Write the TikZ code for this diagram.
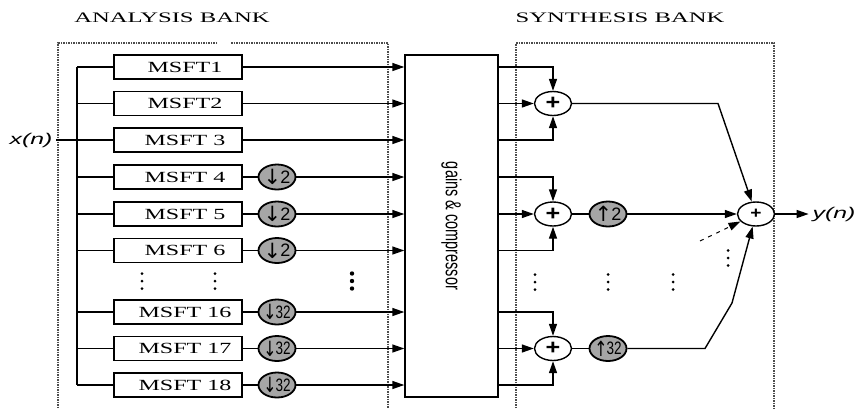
\documentclass[tikz,border=0pt]{standalone}
\usepackage{fontspec}
\setmainfont{Liberation Serif}
\setsansfont{Liberation Sans}
\newfontfamily\arrowfont{DejaVu Sans}
\usepackage{graphicx}
\usetikzlibrary{arrows.meta,shapes.geometric}
\newcommand{\wide}[2][1.6]{\scalebox{#1}[1]{#2}}
\newcommand{\decim}[2][1]{\makebox[0pt]{\scalebox{#1}[1]{\raisebox{-1.5pt}{\arrowfont\fontsize{21}{21}\selectfont ↓}\kern-1pt#2}}}
\newcommand{\interp}[2][1]{\makebox[0pt]{\scalebox{#1}[1]{\raisebox{-1.5pt}{\arrowfont\fontsize{21}{21}\selectfont ↑}\kern-1pt#2}}}
\begin{document}
\begin{tikzpicture}[x=1pt, y=-1pt, >={Triangle[length=12pt,width=8pt]}, line width=1.4pt,
  msft/.style={draw, rectangle, minimum width=128pt, minimum height=24pt, inner sep=0pt, font=\fontsize{15.5}{15.5}\selectfont},
  rate/.style={draw, ellipse, fill=gray!70, line width=1.8pt, minimum width=37pt, minimum height=25pt, inner sep=0pt, font=\sffamily\fontsize{18}{18}\selectfont},
  adder/.style={draw, ellipse, fill=white, minimum width=37pt, minimum height=24pt, inner sep=0pt, font=\sffamily\bfseries\fontsize{21}{21}\selectfont},
  bank/.style={densely dotted, line width=1.5pt, black!70},
  title/.style={font=\fontsize{14.5}{14.5}\selectfont},
  dotpt/.style={radius=1.5pt}]
\useasboundingbox (0,0) rectangle (859,408);
\draw[bank] (217,43) -- (58,43) -- (58,408);
\draw[bank] (231,43) -- (388,43) -- (388,408);
\draw[bank] (516,408) -- (516,43) -- (774,43) -- (774,408);
\node[title] (ta) at (172,18) {\wide[1.7]{ANALYSIS BANK}};
\node[title] (ts) at (620,18) {\wide[1.7]{SYNTHESIS BANK}};
\node[font=\sffamily\itshape\fontsize{15.5}{15.5}\selectfont] (xn) at (31,140) {\wide{x(n)}};
\node[font=\sffamily\itshape\fontsize{15.5}{15.5}\selectfont] (yn) at (834,214) {\wide{y(n)}};
\coordinate (bus) at (77,67);
\node[msft] (m1) at (178,67) {\hspace*{14pt}\wide[1.55]{MSFT1}};
\node[msft] (m2) at (178,103.5) {\hspace*{14pt}\wide[1.55]{MSFT2}};
\node[msft] (m3) at (178,140) {\hspace*{14pt}\wide[1.55]{MSFT 3}};
\node[msft] (m4) at (178,177) {\hspace*{14pt}\wide[1.55]{MSFT 4}};
\node[msft] (m5) at (178,214) {\hspace*{14pt}\wide[1.55]{MSFT 5}};
\node[msft] (m6) at (178,250.5) {\hspace*{14pt}\wide[1.55]{MSFT 6}};
\node[msft] (m16) at (178,312) {\hspace*{14pt}\wide[1.55]{MSFT 16}};
\node[msft] (m17) at (178,348.5) {\hspace*{14pt}\wide[1.55]{MSFT 17}};
\node[msft] (m18) at (178,385) {\hspace*{14pt}\wide[1.55]{MSFT 18}};
\node[rate] (d4) at (277,177) {\decim{2}};
\node[rate] (d5) at (277,214) {\decim{2}};
\node[rate] (d6) at (277,250.5) {\decim{2}};
\node[rate] (d16) at (277,312) {\decim[0.75]{32}};
\node[rate] (d17) at (277,348.5) {\decim[0.75]{32}};
\node[rate] (d18) at (277,385) {\decim[0.75]{32}};
\node[draw, rectangle, minimum width=93pt, minimum height=342pt, inner sep=0pt, font=\sffamily\fontsize{14.5}{14.5}\selectfont] (gc) at (451.5,226) {\rotatebox{-90}{\scalebox{1}[1.5]{gains \& compressor}}};
\node[adder] (a1) at (553,103.5) {\wide[1.2]{+}};
\node[adder] (a2) at (553,214) {\wide[1.2]{+}};
\node[adder] (a3) at (553,348.5) {\wide[1.2]{+}};
\node[rate] (u2) at (608,214) {\interp{2}};
\node[rate] (u32) at (608,348.5) {\interp[0.75]{32}};
\node[adder, font=\sffamily\bfseries\fontsize{16}{16}\selectfont] (fin) at (756,214) {\wide[1.2]{+}};
\coordinate (k1) at (718,103.5);
\coordinate (k3) at (705,348.5);
\coordinate (k4) at (732,303);
\coordinate (k5) at (700,241);
\coordinate (v1) at (142,281);
\coordinate (v2) at (215,281);
\coordinate (v3) at (352,281);
\coordinate (v4) at (535,282);
\coordinate (v5) at (608,282);
\coordinate (v6) at (673,282);
\coordinate (v7) at (728,258);
\foreach \v in {v1,v2,v4,v5,v6,v7}
  \fill[dotpt] (\v) ++(0,-7.5) circle[] (\v) circle[] (\v) ++(0,7.5) circle[];
\fill[radius=2.2pt] (v3) ++(0,-7.5) circle[] (v3) circle[] (v3) ++(0,7.5) circle[];
\draw (xn) -- (m3);
\draw (bus |- m1) -- (bus |- m18);
\draw (bus |- m1) -- (m1);
\draw (bus |- m2) -- (m2);
\draw (bus |- m4) -- (m4);
\draw (bus |- m5) -- (m5);
\draw (bus |- m6) -- (m6);
\draw (bus |- m16) -- (m16);
\draw (bus |- m17) -- (m17);
\draw (bus |- m18) -- (m18);
\draw[->] (m1) -- (gc.west |- m1);
\draw[->] (m2) -- (gc.west |- m2);
\draw[->] (m3) -- (gc.west |- m3);
\draw (m4) -- (d4);
\draw (m5) -- (d5);
\draw (m6) -- (d6);
\draw (m16) -- (d16);
\draw (m17) -- (d17);
\draw (m18) -- (d18);
\draw[->] (d4) -- (gc.west |- d4);
\draw[->] (d5) -- (gc.west |- d5);
\draw[->] (d6) -- (gc.west |- d6);
\draw[->] (d16) -- (gc.west |- d16);
\draw[->] (d17) -- (gc.west |- d17);
\draw[->] (d18) -- (gc.west |- d18);
\draw[->] (gc.east |- m1) -| (a1);
\draw[->] (gc.east |- m2) -- (a1);
\draw[->] (gc.east |- m3) -| (a1);
\draw[->] (gc.east |- m4) -| (a2);
\draw[->] (gc.east |- m5) -- (a2);
\draw[->] (gc.east |- m6) -| (a2);
\draw[->] (gc.east |- m16) -| (a3);
\draw[->] (gc.east |- m17) -- (a3);
\draw[->] (gc.east |- m18) -| (a3);
\draw (a2) -- (u2);
\draw (a3) -- (u32);
\draw[->] (a1) -- (k1) -- (fin);
\draw[->] (u2) -- (fin);
\draw[->] (u32) -- (k3) -- (k4) -- (fin);
\draw[->, dash pattern=on 4pt off 5pt, line width=1pt] (k5) -- (fin);
\draw[->] (fin) -- (yn);
\end{tikzpicture}
\end{document}
